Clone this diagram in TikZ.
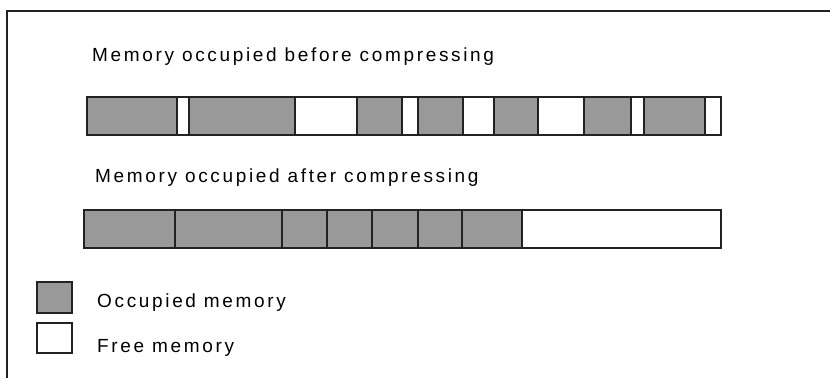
\documentclass[tikz,border=0pt]{standalone}
\usepackage{fontspec}
\setmainfont{Liberation Sans}[LetterSpace=14]
\definecolor{occ}{HTML}{999999}
\definecolor{edge}{HTML}{222222}
\begin{document}
\begin{tikzpicture}[x=1pt,y=-1pt,
  occbox/.style={fill=occ,draw=edge,line width=1.4pt},
  freebox/.style={fill=white,draw=edge,line width=1.4pt},
  lbl/.style={anchor=base west,inner sep=0pt,font=\fontsize{19}{22}\selectfont,text=black}]
\useasboundingbox (0,0) rectangle (830,378);
\fill[white] (0,0) rectangle (830,378);
% frame
\draw[line width=2pt,edge] (7,378) -- (7,11) -- (830,11);
% titles
\node[lbl] (t1) at (92,61) {Memory occupied before compressing};
\node[lbl] (t2) at (95,182) {Memory occupied after compressing};
% bar before
\foreach \a/\b in {87/177,189/295,357/402,418/463,494/538,584/631,644/705}
  \draw[occbox] (\a,97) rectangle (\b,135);
\foreach \a/\b in {177/189,295/357,402/418,463/494,538/584,631/644,705/721}
  \draw[freebox] (\a,97) rectangle (\b,135);
% bar after
\foreach \a/\b in {84/175,175/282,282/327,327/372,372/418,418/462,462/522}
  \draw[occbox] (\a,210) rectangle (\b,248);
\draw[freebox] (522,210) rectangle (721,248);
% legend
\draw[occbox] (37,282) rectangle (72,313);
\draw[freebox] (37,323) rectangle (72,353);
\node[lbl] (l1) at (97,307) {Occupied memory};
\node[lbl] (l2) at (97,352) {Free memory};
\end{tikzpicture}
\end{document}
